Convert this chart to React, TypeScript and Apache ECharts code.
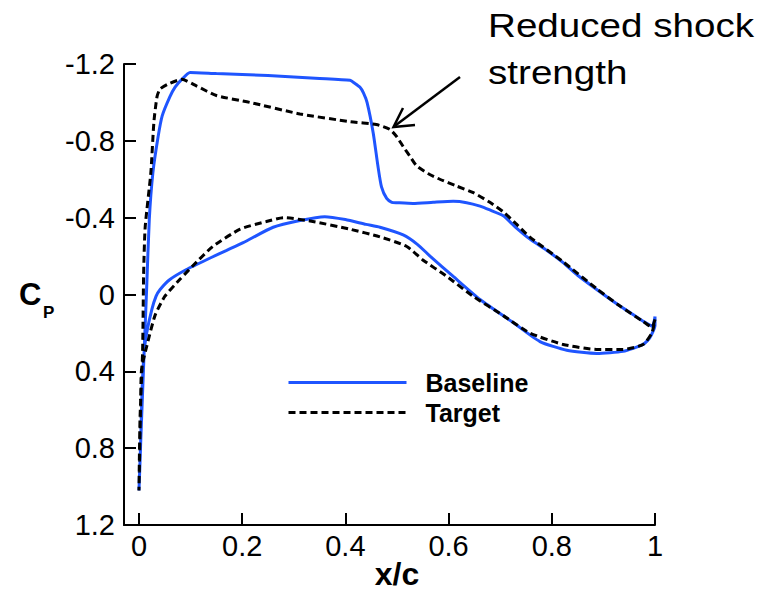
import React, { useEffect, useRef } from "react";
import * as echarts from "echarts";

// Baseline Cp distribution: upper surface (TE -> LE), then lower surface (LE -> TE)
const baselineX = [
  1.0, 0.995, 0.977, 0.955, 0.932, 0.887, 0.85, 0.822, 0.79, 0.757, 0.73, 0.706, 0.68, 0.661, 0.635, 0.609,
  0.57, 0.531, 0.5, 0.49, 0.48, 0.47, 0.463, 0.454, 0.442, 0.435, 0.428, 0.418, 0.409, 0.35, 0.25,
  0.15, 0.099, 0.083, 0.07, 0.06, 0.045, 0.037, 0.027, 0.02, 0.015, 0.01, 0.005, 0.0,
  0.003, 0.006, 0.01, 0.015, 0.025, 0.033, 0.041, 0.06, 0.092, 0.138, 0.17, 0.202, 0.26, 0.312,
  0.36, 0.4, 0.44, 0.467, 0.512, 0.54, 0.564, 0.609, 0.661, 0.725, 0.777, 0.829, 0.887, 0.938,
  0.977, 0.99, 1.0, 1.0,
];
const baselineCp = [
  0.115, 0.165, 0.139, 0.1, 0.06, -0.026, -0.1, -0.166, -0.23, -0.29, -0.35, -0.41, -0.44, -0.46, -0.478, -0.485,
  -0.48, -0.474, -0.478, -0.48, -0.5, -0.56, -0.67, -0.84, -1.0, -1.05, -1.08, -1.1, -1.115, -1.125, -1.14,
  -1.15, -1.156, -1.12, -1.08, -1.03, -0.93, -0.82, -0.635, -0.39, -0.04, 0.3, 0.65, 1.02,
  0.8, 0.5, 0.3, 0.2, 0.078, 0.01, -0.026, -0.078, -0.13, -0.19, -0.23, -0.27, -0.35, -0.385,
  -0.405, -0.39, -0.365, -0.35, -0.31, -0.26, -0.2, -0.094, 0.026, 0.146, 0.245, 0.29, 0.307, 0.296,
  0.26, 0.225, 0.16, 0.115,
];

// Target Cp distribution: upper surface (TE -> LE), then lower surface (LE -> TE)
const targetX = [
  1.0, 0.994, 0.977, 0.932, 0.887, 0.822, 0.757, 0.73, 0.706, 0.68, 0.648, 0.615, 0.583, 0.56, 0.538,
  0.525, 0.512, 0.5, 0.486, 0.46, 0.409, 0.312, 0.215, 0.15, 0.112, 0.083, 0.06, 0.041, 0.035, 0.029,
  0.023, 0.012, 0.009, 0.007, 0.002, 0.0,
  0.003, 0.005, 0.015, 0.031, 0.05, 0.079, 0.112, 0.143, 0.196, 0.247, 0.28, 0.337, 0.409, 0.467,
  0.519, 0.55, 0.596, 0.648, 0.706, 0.757, 0.822, 0.887, 0.938, 0.977, 0.994, 1.0,
];
const targetCp = [
  0.13, 0.17, 0.14, 0.06, -0.03, -0.17, -0.3, -0.37, -0.43, -0.48, -0.53, -0.565, -0.6, -0.63, -0.67,
  -0.72, -0.77, -0.82, -0.86, -0.885, -0.9, -0.94, -1.0, -1.036, -1.085, -1.12, -1.1, -1.07, -1.03, -0.9,
  -0.634, -0.35, -0.1, 0.3, 0.65, 1.02,
  0.6, 0.39, 0.27, 0.11, 0.01, -0.078, -0.17, -0.25, -0.34, -0.38, -0.4, -0.38, -0.34, -0.3,
  -0.25, -0.18, -0.095, 0.01, 0.11, 0.2, 0.26, 0.286, 0.286, 0.26, 0.2, 0.13,
];

const xTicks = [0, 0.2, 0.4, 0.6, 0.8, 1];
const seriesNames = ["Baseline", "Target"];

const FONT = "'Liberation Sans', Arial, Helvetica, sans-serif";
const BLUE = "#1f55ff";

export default function App() {
  const ref = useRef<HTMLDivElement>(null);

  useEffect(() => {
    if (!ref.current) return;
    const chart = echarts.init(ref.current, null, { renderer: "svg" });
    const zip = (xs: number[], ys: number[]) => xs.map((x, i) => [x, ys[i]]);
    const fmt = (v: number) => {
      const r = Math.round(v * 10) / 10;
      return (r === 0 ? 0 : r).toString();
    };
    chart.setOption({
      animation: false,
      grid: { left: 124, right: 121, top: 64, bottom: 67, outerBoundsMode: "none" },
      xAxis: {
        type: "value",
        min: -0.029,
        max: 1,
        splitLine: { show: false },
        axisLine: { onZero: false, lineStyle: { color: "#000", width: 2 } },
        axisTick: { inside: true, length: 12, lineStyle: { color: "#000", width: 2 }, customValues: xTicks },
        axisLabel: {
          customValues: xTicks,
          formatter: fmt,
          color: "#000",
          fontSize: 29,
          fontFamily: FONT,
          margin: 6,
        },
      },
      yAxis: {
        type: "value",
        inverse: true,
        min: -1.2,
        max: 1.2,
        interval: 0.4,
        splitLine: { show: false },
        axisLine: { onZero: false, lineStyle: { color: "#000", width: 2 } },
        axisTick: { inside: true, length: 12, lineStyle: { color: "#000", width: 2 } },
        axisLabel: { formatter: fmt, color: "#000", fontSize: 29, fontFamily: FONT, margin: 9 },
      },
      legend: {
        orient: "vertical",
        left: 282,
        top: 365,
        itemWidth: 118,
        itemHeight: 14,
        itemGap: 5,
        data: seriesNames,
        itemStyle: { color: "transparent", borderColor: "transparent", borderWidth: 0, opacity: 0 },
        lineStyle: { width: 3 },
        textStyle: {
          fontSize: 25,
          fontWeight: "bold",
          fontFamily: FONT,
          color: "#000",
          lineHeight: 25,
          padding: [0, 0, 0, 14],
        },
      },
      series: [
        {
          name: seriesNames[0],
          type: "line",
          data: zip(baselineX, baselineCp),
          symbol: "none",
          smooth: 0.2,
          lineStyle: { color: BLUE, width: 3 },
          itemStyle: { color: BLUE },
          z: 3,
        },
        {
          name: seriesNames[1],
          type: "line",
          data: zip(targetX, targetCp),
          symbol: "none",
          smooth: 0.2,
          lineStyle: { color: "#000", width: 3, type: [7, 4] },
          itemStyle: { color: "#000" },
          z: 4,
        },
      ],
      graphic: [
        {
          type: "text",
          x: 488,
          y: 25.5,
          scaleX: 1.17,
          style: { text: "Reduced shock", fontSize: 33, fontFamily: FONT, fill: "#000", verticalAlign: "middle" },
        },
        {
          type: "text",
          x: 488,
          y: 72.5,
          scaleX: 1.17,
          style: { text: "strength", fontSize: 33, fontFamily: FONT, fill: "#000", verticalAlign: "middle" },
        },
        {
          type: "line",
          shape: { x1: 460, y1: 77, x2: 394, y2: 126.5 },
          style: { stroke: "#000", lineWidth: 2.5 },
        },
        {
          type: "polyline",
          shape: { points: [[403, 108], [393.5, 127], [415, 125]] },
          style: { stroke: "#000", lineWidth: 2.5, fill: "none" },
        },
        {
          type: "text",
          x: 397,
          y: 574,
          style: {
            text: "x/c",
            fontSize: 32,
            fontWeight: "bold",
            fontFamily: FONT,
            fill: "#000",
            align: "center",
            verticalAlign: "middle",
          },
        },
        {
          type: "text",
          x: 19,
          y: 294,
          style: { text: "C", fontSize: 31, fontWeight: "bold", fontFamily: FONT, fill: "#000", verticalAlign: "middle" },
        },
        {
          type: "text",
          x: 43,
          y: 312,
          style: { text: "P", fontSize: 17, fontWeight: "bold", fontFamily: FONT, fill: "#000", verticalAlign: "middle" },
        },
      ],
    });
    return () => chart.dispose();
  }, []);

  return (
    <div
      ref={ref}
      style={{ position: "fixed", left: 0, top: 0, width: 776, height: 592, background: "#fff" }}
    />
  );
}
